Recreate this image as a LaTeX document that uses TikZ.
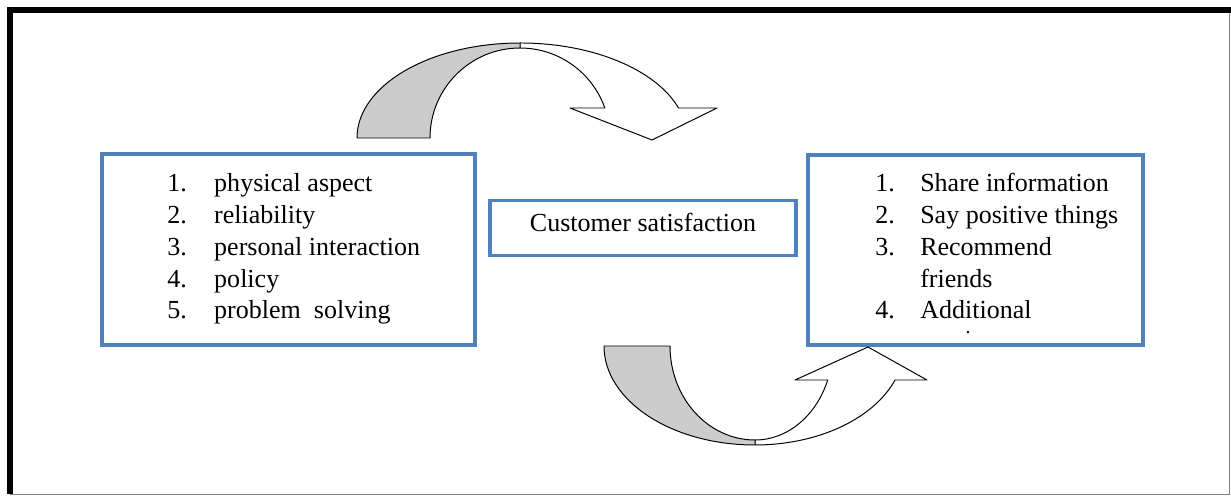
\documentclass[tikz,border=0pt]{standalone}
\usepackage{fontspec}
\setmainfont{Liberation Serif}
\usetikzlibrary{positioning}
\definecolor{boxblue}{RGB}{79,129,189}
\definecolor{shadegray}{RGB}{204,204,204}

\begin{document}
\begin{tikzpicture}[x=0.025cm, y=0.025cm,
            bluebox/.style={draw=boxblue, line width=2.8pt, fill=white, inner sep=0pt},
            listline/.style={anchor=base west, inner sep=0pt, font=\fontsize{18.5}{22}\selectfont},
            bendarrow/.style={draw=black, line width=0.7pt, line join=round}]

        \useasboundingbox (0,0) rectangle (1231,496);

        % marco
        \draw[gray, line width=0.7pt] (1229,486) -- (1229,2) -- (10,2);
        \draw[black, line width=3.8pt] (10,2) -- (10,486) -- (1231,486);

        % cajas
        \node[bluebox, minimum width=9.325cm, minimum height=4.775cm] (causes) at (288.5,246.5) {};
        \node[bluebox, minimum width=7.625cm, minimum height=1.375cm,
              font=\fontsize{18.5}{22}\selectfont, text height=0.78em, text depth=0.22em] (satis) at (643,268) {Customer satisfaction};
        \node[bluebox, minimum width=8.3625cm, minimum height=4.75cm] (effects) at (975.25,246) {};

        \node[listline] (c1) at (167,304.5) {\makebox[33.4pt][l]{1.}physical aspect};
        \node[listline] (c2) at (167,272.7) {\makebox[33.4pt][l]{2.}reliability};
        \node[listline] (c3) at (167,240.8) {\makebox[33.4pt][l]{3.}personal interaction};
        \node[listline] (c4) at (167,209) {\makebox[33.4pt][l]{4.}policy};
        \node[listline] (c5) at (167,177.2) {\makebox[33.4pt][l]{5.}problem\ \ solving};

        \node[listline] (e1) at (875,304.5) {\makebox[32pt][l]{1.}Share information};
        \node[listline] (e2) at (875,272.7) {\makebox[32pt][l]{2.}Say positive things};
        \node[listline] (e3) at (875,240.8) {\makebox[32pt][l]{3.}Recommend};
        \node[listline] (e3b) at (920,209) {friends};
        \node[listline] (e4) at (875,177.2) {\makebox[32pt][l]{4.}Additional};
        \node[listline, anchor=base, font=\fontsize{14}{16}\selectfont] (cut) at (968,163) {.};

        % flecha de arriba
        \draw[bendarrow, fill=white] (520,448) arc[start angle=90, end angle=19.47, radius=90]
            -- (570,388) -- (652,356) -- (717,388) -- (678.5,388)
            arc[start angle=18.4, end angle=90, x radius=167, y radius=95] -- cycle;
        \draw[bendarrow, fill=shadegray] (357,358) arc[start angle=180, end angle=90, x radius=163, y radius=95]
            -- (520,448) arc[start angle=90, end angle=180, radius=90] -- cycle;

        % flecha de abajo
        \draw[bendarrow, fill=white] (755,56) arc[start angle=270, end angle=338.8, x radius=78, y radius=94]
            -- (795,116) -- (868,149) -- (927,116) -- (895,116)
            arc[start angle=339.9, end angle=270, x radius=149, y radius=99] -- cycle;
        \draw[bendarrow, fill=shadegray] (604,150) arc[start angle=180, end angle=270, x radius=151, y radius=99]
            -- (755,56) arc[start angle=270, end angle=180, x radius=85, y radius=94] -- cycle;

        %\path (causes) edge (satis);
    \end{tikzpicture}
\end{document}
